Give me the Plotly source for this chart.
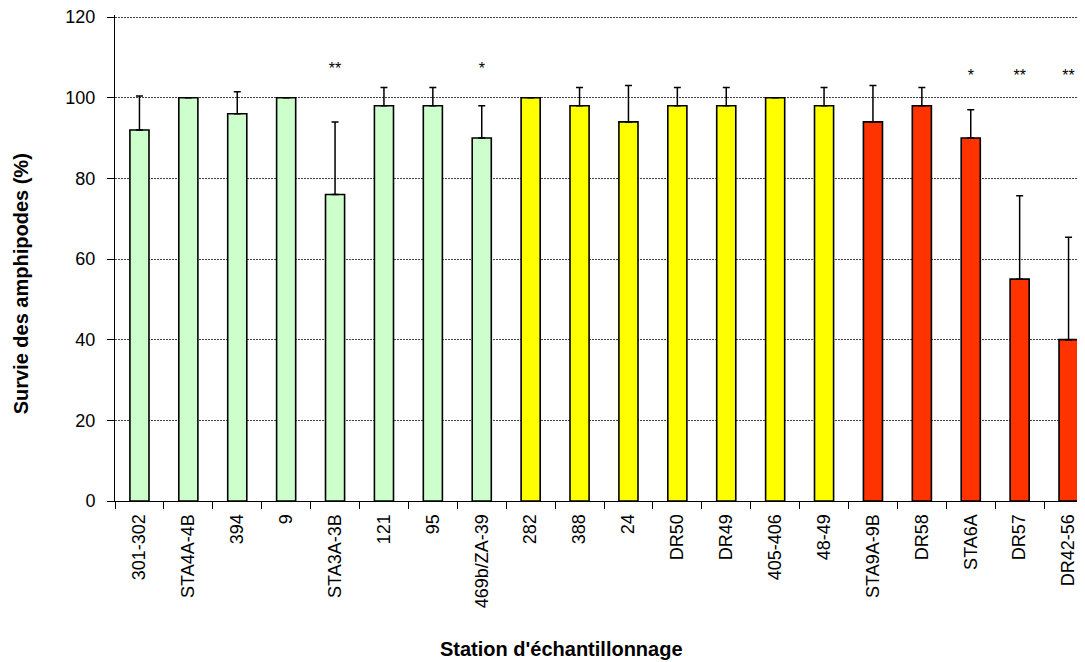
import plotly.graph_objects as go

stations = ["301-302", "STA4A-4B", "394", "9", "STA3A-3B", "121", "95", "469b/ZA-39",
            "282", "388", "24", "DR50", "DR49", "405-406", "48-49",
            "STA9A-9B", "DR58", "STA6A", "DR57", "DR42-56"]
survie = [92, 100, 96, 100, 76, 98, 98, 90,
          100, 98, 94, 98, 98, 100, 98,
          94, 98, 90, 55, 40]
ecart = [8.4, 0, 5.5, 0, 18, 4.5, 4.5, 8,
         0, 4.5, 9, 4.5, 4.5, 0, 4.5,
         9, 4.5, 7, 20.7, 25.4]
groupe = ["g"] * 8 + ["y"] * 7 + ["r"] * 5
couleurs_groupe = {"g": "#CCFFCC", "y": "#FFFF00", "r": "#FF3300"}

sig_stations = ["STA3A-3B", "469b/ZA-39", "STA6A", "DR57", "DR42-56"]
sig_labels = ["**", "*", "*", "**", "**"]
sig_y = [106.8, 106.8, 105.2, 105.2, 105.2]

y_ticks = [0, 20, 40, 60, 80, 100, 120]

titre_x = "Station d'échantillonnage"
titre_y = "Survie des amphipodes (%)"

font = "Liberation Sans, Arial, sans-serif"
font_title = "Liberation Sans Narrow, Arial Narrow, Liberation Sans, Arial, sans-serif"

fig = go.Figure()
fig.add_trace(go.Bar(
    x=stations, y=survie,
    marker=dict(color=[couleurs_groupe[g] for g in groupe],
                line=dict(color="black", width=1.6)),
    error_y=dict(type="data", symmetric=False, array=ecart,
                 arrayminus=[0] * len(ecart), color="black",
                 thickness=1.5, width=3.5),
    showlegend=False,
))
fig.add_trace(go.Scatter(
    x=sig_stations, y=sig_y, mode="text", text=sig_labels,
    textfont=dict(family=font, size=16, color="black"),
    textposition="middle center", showlegend=False,
))

fig.update_layout(
    width=1085, height=662,
    margin=dict(l=107, r=0, t=7, b=169),
    paper_bgcolor="white", plot_bgcolor="white",
    bargap=0.61,
    font=dict(family=font, color="black"),
    xaxis=dict(
        type="category", tickson="boundaries", ticks="outside", ticklen=7,
        tickcolor="black", tickangle=-90, tickfont=dict(size=18, family=font),
        ticklabelstandoff=5,
        showline=True, linecolor="black", linewidth=1, showgrid=False,
        range=[-0.5, 19.5],
    ),
    yaxis=dict(
        range=[0, 120.5], tickvals=y_ticks, ticktext=[str(v) for v in y_ticks],
        ticks="outside", ticklen=7, tickcolor="black",
        tickfont=dict(size=18, family=font), ticklabelstandoff=8,
        ticklabeloverflow="allow",
        showline=True, linecolor="black", linewidth=1,
        showgrid=True, gridcolor="#444", gridwidth=1, griddash="2px,1px",
        zeroline=False,
    ),
    annotations=[
        dict(text="<b>" + titre_x + "</b>", xref="paper", yref="paper",
             x=0.457, y=-0.304, xanchor="center", yanchor="middle",
             showarrow=False, font=dict(size=20, family=font_title)),
        dict(text="<b>" + titre_y + "</b>", xref="paper", yref="paper",
             x=-0.096, y=0.446, xanchor="center", yanchor="middle",
             textangle=-90, showarrow=False,
             font=dict(size=20, family=font_title)),
    ],
)

fig.write_html("out.html")
